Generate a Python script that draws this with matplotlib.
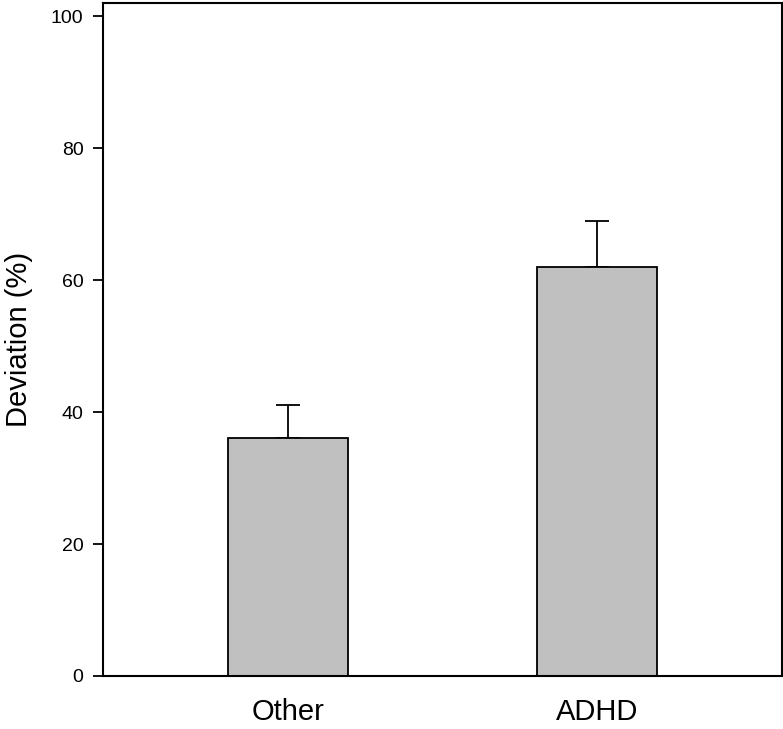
import numpy as np
import matplotlib
matplotlib.use("Agg")
from matplotlib import pyplot as plt

plt.rcParams['font.family'] = ['Liberation Sans', 'DejaVu Sans']

# data
groups = ["Other", "ADHD"]
deviation = [36, 62]
err = [5, 7]

fig = plt.figure(figsize=(7.83, 7.29), dpi=100)
ax = fig.add_axes([103/783, 53/729, 679/783, 673/729])

x = np.arange(len(groups))
ax.bar(x, deviation, width=0.39, color="#c0c0c0", edgecolor="black", linewidth=1.3, zorder=2)
ax.errorbar(x, deviation, yerr=[np.zeros(len(err)), err], fmt="none",
            ecolor="black", elinewidth=1.3, capsize=8.5, capthick=1.3, zorder=1)

ax.set_xlim(-0.6, 1.6)
ax.set_ylim(0, 102)
ax.set_yticks([0, 20, 40, 60, 80, 100])
ax.set_xticks(x)
ax.set_xticklabels(groups, fontsize=21)
ax.tick_params(axis="x", length=0, pad=16)
ax.tick_params(axis="y", direction="out", length=7, width=1.3, labelsize=14, pad=7)
ax.set_ylabel("Deviation (%)", fontsize=21, labelpad=13)
for s in ax.spines.values():
    s.set_linewidth(1.5)

fig.savefig("out.png", dpi=100)
